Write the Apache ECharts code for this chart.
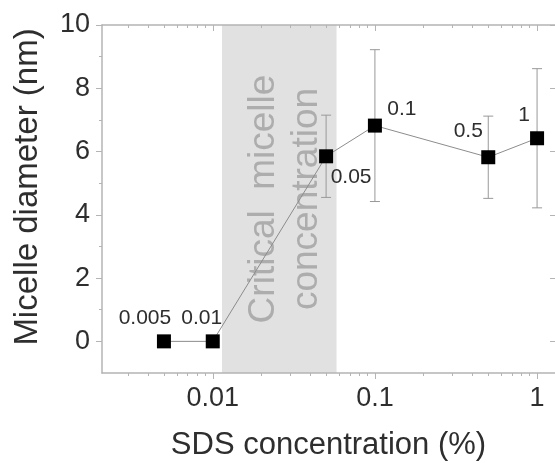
<!DOCTYPE html>
<html>
<head>
<meta charset="utf-8">
<script src="https://cdn.jsdelivr.net/npm/echarts@6/dist/echarts.min.js"></script>
<style>
  html, body { margin: 0; padding: 0; background: #fff; }
  #chart { width: 555px; height: 466px; }
</style>
</head>
<body>
<div id="chart"></div>
<script>
// SDS concentration (%) vs micelle diameter (nm)
var concLabels = ['0.005', '0.01', '0.05', '0.1', '0.5', '1'];
var conc = [0.005, 0.01, 0.05, 0.1, 0.5, 1];
var diameter = [0, 0, 5.85, 6.82, 5.82, 6.42];
var diamErr = [0, 0, 1.3, 2.4, 1.3, 2.2];

// shaded CMC band
var cmcRange = [0.0114, 0.058];

// axis ticks
var xMajor = [0.01, 0.1, 1];
var xMinor = [0.003, 0.004, 0.005, 0.006, 0.007, 0.008, 0.009,
              0.02, 0.03, 0.04, 0.05, 0.06, 0.07, 0.08, 0.09,
              0.2, 0.3, 0.4, 0.5, 0.6, 0.7, 0.8, 0.9];
var yMajor = [0, 2, 4, 6, 8, 10];
var yMinor = [1, 3, 5, 7, 9];

// label placement per point (px from marker centre)
var labelOffsets = [[-19, -23], [-11, -23], [25, 21], [27, -16], [-20, -26], [-13, -23]];

var FONT = '"Liberation Sans", Arial, sans-serif';
var AXIS_COLOR = '#b4b4b4';
var TEXT_COLOR = '#2e2e2e';

var chart = echarts.init(document.getElementById('chart'));

function xAx(pos, ticks, len, inside, extra) {
    var a = {
        type: 'log',
        logBase: 10,
        min: 0.002075,
        max: 1.29,
        position: pos,
        z: 5,
        axisLine: { show: true, onZero: false, lineStyle: { color: AXIS_COLOR, width: 1.5 } },
        axisTick: { show: true, inside: inside, length: len, customValues: ticks,
                    lineStyle: { color: AXIS_COLOR, width: 1 } },
        axisLabel: { show: false },
        splitLine: { show: false }
    };
    for (var k in extra) a[k] = extra[k];
    return a;
}

function yAx(pos, ticks, len, inside, extra) {
    var a = {
        type: 'value',
        min: -1,
        max: 10,
        position: pos,
        z: 5,
        axisLine: { show: true, onZero: false, lineStyle: { color: AXIS_COLOR, width: 1.5 } },
        axisTick: { show: true, inside: inside, length: len, customValues: ticks,
                    lineStyle: { color: AXIS_COLOR, width: 1 } },
        axisLabel: { show: false },
        splitLine: { show: false }
    };
    for (var k in extra) a[k] = extra[k];
    return a;
}

var lineData = conc.map(function (c, i) {
    return { value: [c, diameter[i]], label: { offset: labelOffsets[i] } };
});

var errData = [];
conc.forEach(function (c, i) {
    if (diamErr[i] > 0) errData.push([c, diameter[i] - diamErr[i], diameter[i] + diamErr[i]]);
});

var option = {
    animation: false,
    textStyle: { fontFamily: FONT },
    grid: { left: 102, right: -1, top: 25, bottom: 91, containLabel: false },
    xAxis: [
        xAx('bottom', xMajor, 6, false, {
            name: 'SDS concentration (%)',
            nameLocation: 'middle',
            nameGap: 57,
            nameTextStyle: { fontSize: 31, color: TEXT_COLOR, fontFamily: FONT },
            axisLabel: { show: true, customValues: xMajor, fontSize: 27, color: TEXT_COLOR, margin: 12,
                         fontFamily: FONT, formatter: function (v) { return String(+v.toPrecision(3)); } }
        }),
        xAx('bottom', xMinor, 3, false, { axisLine: { show: false, onZero: false } }),
        xAx('top', xMajor, 6, true, {}),
        xAx('top', xMinor, 3, true, { axisLine: { show: false, onZero: false } })
    ],
    yAxis: [
        yAx('left', yMajor, 6, false, {
            name: 'Micelle diameter (nm)',
            nameLocation: 'middle',
            nameGap: 58,
            nameTextStyle: { fontSize: 33, color: TEXT_COLOR, fontFamily: FONT, padding: [0, 0, 0, 24] },
            axisLabel: { show: true, customValues: yMajor, fontSize: 27, color: TEXT_COLOR, margin: 12, fontFamily: FONT }
        }),
        yAx('left', yMinor, 3, false, { axisLine: { show: false, onZero: false } }),
        // right frame edge is cut off in the picture, only its inward ticks show
        yAx('right', yMajor, 5, true, { axisLine: { show: false, onZero: false } })
    ],
    series: [
        {
            type: 'custom',
            name: 'error',
            xAxisIndex: 0,
            yAxisIndex: 0,
            z: 1,
            renderItem: function (params, api) {
                var top = api.coord([api.value(0), api.value(2)]);
                var bot = api.coord([api.value(0), api.value(1)]);
                var hw = 5;
                var st = { stroke: '#999', lineWidth: 1 };
                return {
                    type: 'group',
                    children: [
                        { type: 'line', shape: { x1: top[0], y1: top[1], x2: bot[0], y2: bot[1] }, style: st },
                        { type: 'line', shape: { x1: top[0] - hw, y1: top[1], x2: top[0] + hw, y2: top[1] }, style: st },
                        { type: 'line', shape: { x1: bot[0] - hw, y1: bot[1], x2: bot[0] + hw, y2: bot[1] }, style: st }
                    ]
                };
            },
            encode: { x: 0, y: [1, 2] },
            data: errData
        },
        {
            type: 'line',
            name: 'diameter',
            xAxisIndex: 0,
            yAxisIndex: 0,
            z: 3,
            symbol: 'rect',
            symbolSize: 14,
            itemStyle: { color: '#000' },
            lineStyle: { color: '#8c8c8c', width: 1 },
            label: {
                show: true,
                position: 'inside',
                fontSize: 21,
                color: TEXT_COLOR,
                fontFamily: FONT,
                formatter: function (p) { return concLabels[p.dataIndex]; }
            },
            markArea: {
                silent: true,
                itemStyle: { color: '#e1e1e1' },
                label: {
                    show: true,
                    position: 'inside',
                    rotate: 90,
                    offset: [0, 6],
                    fontSize: 37,
                    lineHeight: 43,
                    color: '#adadad',
                    fontFamily: FONT,
                    formatter: 'Critical  micelle\nconcentration'
                },
                data: [[{ xAxis: cmcRange[0] }, { xAxis: cmcRange[1] }]]
            },
            data: lineData
        }
    ]
};

chart.setOption(option);
</script>
</body>
</html>
